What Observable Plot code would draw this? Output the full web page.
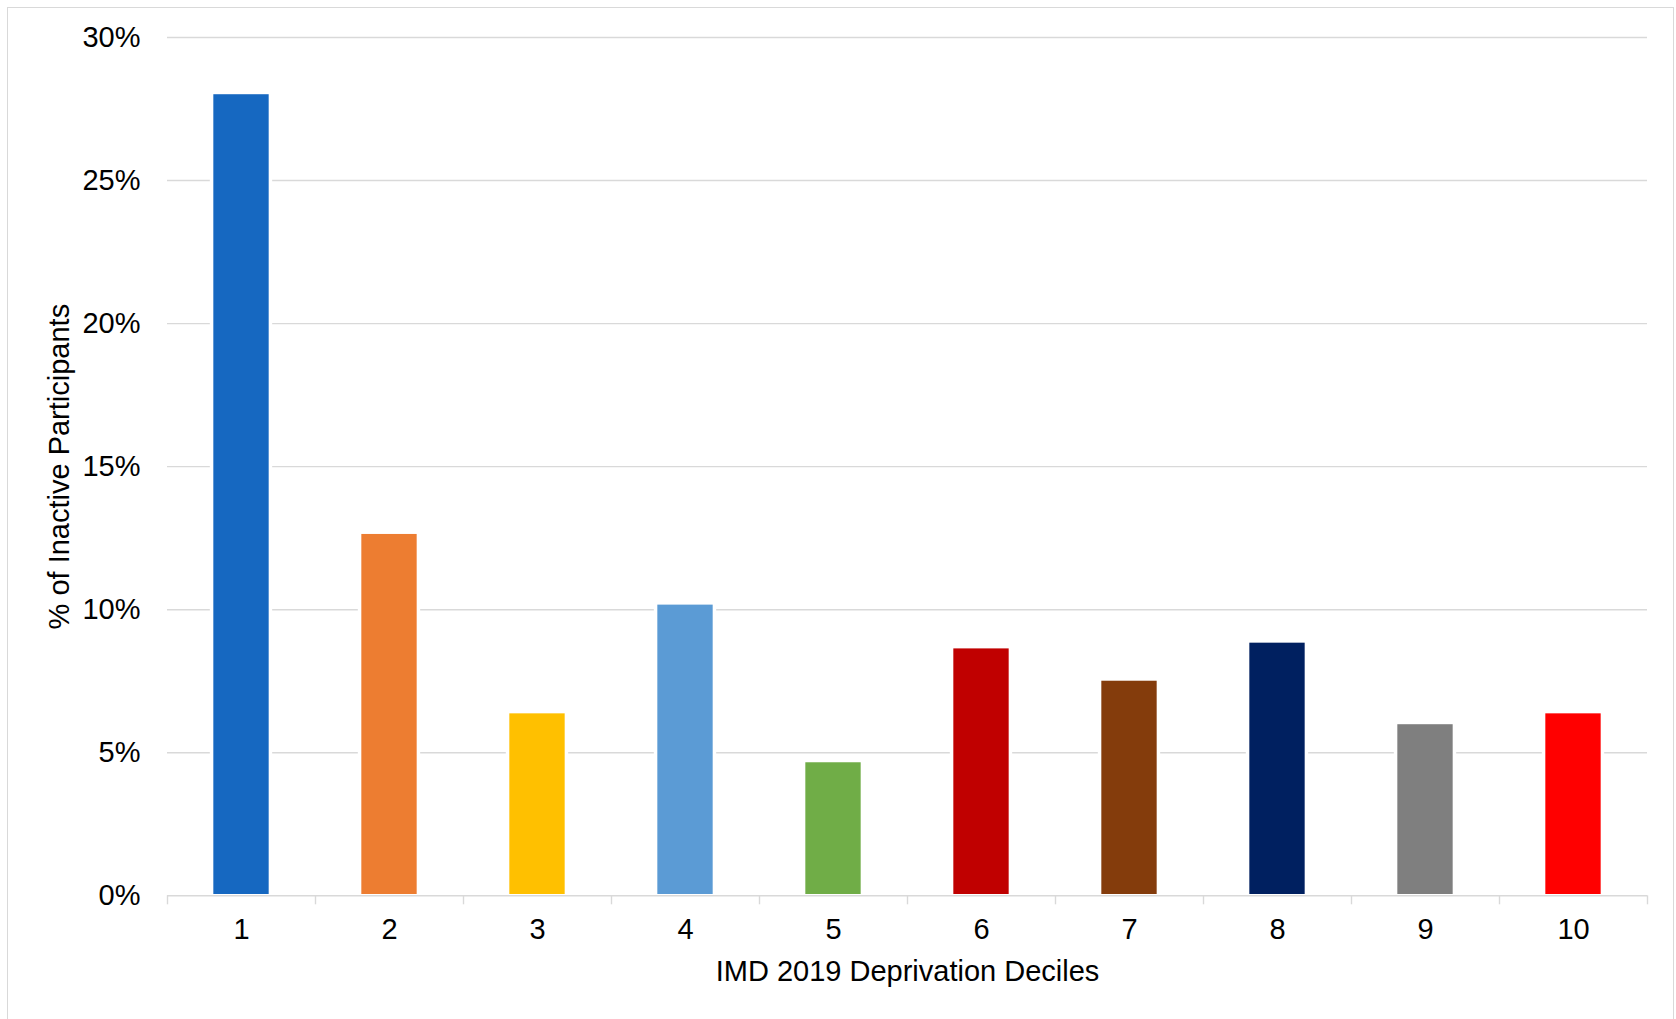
<!DOCTYPE html>
<html>
<head>
<meta charset="utf-8">
<script src="https://cdn.jsdelivr.net/npm/d3@7"></script>
<script src="https://cdn.jsdelivr.net/npm/@observablehq/plot@0.6"></script>
<style>
  html, body { margin: 0; padding: 0; background: #fff; overflow: hidden; }
  #wrap { position: relative; width: 1676px; height: 1019px; }
  #chart { position: absolute; left: 0; top: 0; }
  #frame { position: absolute; left: 7px; top: 7px; width: 1667px; height: 1040px;
           border: 1.5px solid #d9d9d9; box-sizing: border-box; pointer-events: none; }
</style>
</head>
<body>
<div id="wrap"><div id="chart"></div><div id="frame"></div></div>
<script>
// Share of inactive participants by IMD 2019 deprivation decile
const deciles = [1, 2, 3, 4, 5, 6, 7, 8, 9, 10];
const inactivePct = [28.0, 12.63, 6.36, 10.16, 4.65, 8.63, 7.50, 8.83, 5.98, 6.36];
const barColors = ["#1668C1", "#ED7D31", "#FFC000", "#5B9BD5", "#70AD47",
                   "#C00000", "#843C0C", "#002060", "#7F7F7F", "#FF0000"];
const yTicks = [0, 5, 10, 15, 20, 25, 30];
const xTitle = "IMD 2019 Deprivation Deciles";
const yTitle = "% of Inactive Participants";

const data = deciles.map((d, i) => ({ decile: d, pct: inactivePct[i], color: barColors[i] }));
const half = 0.187; // half bar width, in decile units
const edges = [deciles[0] - 0.5, ...deciles.map(d => d + 0.5)];
const grey = "#d9d9d9";
const font = "'Liberation Sans', Arial, sans-serif";

const chart = Plot.plot({
  width: 1676,
  height: 1019,
  marginLeft: 167,
  marginRight: 29,
  marginTop: 37,
  marginBottom: 123.7,
  style: { fontFamily: font, fontSize: "29px", color: "#000", background: "transparent" },
  x: { type: "linear", domain: [0.5, 10.5] },
  y: { domain: [0, 30] },
  color: { type: "identity" },
  marks: [
    Plot.ruleY(yTicks.filter(t => t > 0), { stroke: grey, strokeWidth: 1.4 }),
    // white halo that breaks the gridlines around each bar
    Plot.rectY(data, { x1: d => d.decile - half, x2: d => d.decile + half, y1: 0, y2: "pct",
                       fill: "white", stroke: "white", strokeWidth: 7 }),
    Plot.rectY(data, { x1: d => d.decile - half, x2: d => d.decile + half, y1: 0, y2: "pct",
                       fill: "color", insetBottom: 1.3 }),
    Plot.ruleY([0], { stroke: grey, strokeWidth: 1.4 }),
    Plot.axisY({ ticks: yTicks, tickSize: 0, tickPadding: 27, tickFormat: d => d + "%",
                 label: null, fontSize: 29 }),
    Plot.axisX({ ticks: edges, tickSize: 9, tickFormat: () => "", stroke: grey,
                 strokeWidth: 1.4, label: null }),
    Plot.axisX({ ticks: deciles, tickSize: 0, tickPadding: 23, tickFormat: d => String(d),
                 label: null, fontSize: 29 }),
    Plot.text([xTitle], { frameAnchor: "bottom", dy: 76, lineAnchor: "middle",
                          fontSize: 29, fill: "#000" }),
    Plot.text([yTitle], { frameAnchor: "left", dx: -108, rotate: -90, textAnchor: "middle",
                          fontSize: 29, fill: "#000" })
  ]
});
document.getElementById("chart").appendChild(chart);
</script>
</body>
</html>
